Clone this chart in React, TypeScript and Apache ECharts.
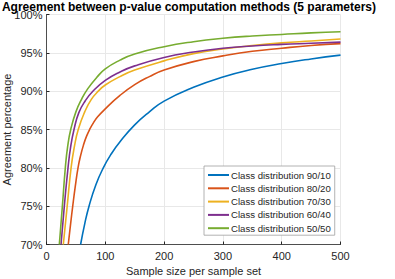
import React, { useEffect, useRef } from "react";
import * as echarts from "echarts";

const seriesNames = [
  "Class distribution 90/10",
  "Class distribution 80/20",
  "Class distribution 70/30",
  "Class distribution 60/40",
  "Class distribution 50/50",
];

const colors = ["#0072BD", "#D95319", "#EDB120", "#7E2F8E", "#77AC30"];

const xTicks = [0, 100, 200, 300, 400, 500];

const dist90: [number, number][] = [
  [58, 70], [65, 72.7], [72.3, 75], [84, 77.8], [96.6, 80], [110, 81.8], [125, 83.4],
  [150, 85.6], [175, 87.3], [200, 88.7], [250, 90.5], [300, 91.85], [350, 92.85],
  [400, 93.6], [450, 94.2], [500, 94.7],
];
const dist80: [number, number][] = [
  [37, 70], [41, 72.7], [44.6, 75], [49, 77.6], [53.6, 80], [58, 81.6], [63, 83],
  [68, 84.1], [74, 85.1], [80, 85.9], [87, 86.65], [100, 87.7], [125, 89.45],
  [150, 90.85], [175, 91.9], [200, 92.75], [250, 93.85], [300, 94.6], [350, 95.2],
  [400, 95.6], [450, 95.95], [500, 96.2],
];
const dist70: [number, number][] = [
  [28.6, 70], [35.2, 75], [41.8, 80], [47.5, 82.8], [54, 85], [65, 87.3], [76, 88.9],
  [88, 90], [100, 90.8], [125, 91.9], [150, 92.75], [200, 93.95], [250, 94.9],
  [300, 95.5], [350, 95.95], [400, 96.3], [450, 96.55], [500, 96.8],
];
const dist60: [number, number][] = [
  [24.7, 70], [30.3, 75], [36.6, 80], [41, 82.7], [46.8, 85], [55, 87.2], [66, 88.75],
  [79.6, 90.05], [100, 91.4], [125, 92.5], [150, 93.3], [200, 94.4], [250, 95.1],
  [300, 95.6], [350, 95.9], [400, 96.1], [450, 96.25], [500, 96.4],
];
const dist50: [number, number][] = [
  [21.8, 70], [27, 75], [32, 80], [36, 82.8], [41.2, 85], [50, 87.3], [60, 89],
  [70, 90.3], [85, 91.75], [100, 92.9], [125, 94.05], [150, 94.85], [200, 95.8],
  [250, 96.45], [300, 96.9], [350, 97.2], [400, 97.4], [450, 97.6], [500, 97.75],
];

const seriesData = [dist90, dist80, dist70, dist60, dist50];

export default function App() {
  const ref = useRef<HTMLDivElement>(null);
  useEffect(() => {
    if (!ref.current) return;
    const chart = echarts.init(ref.current, undefined, { renderer: "svg" });
    const font = "'Liberation Sans', Arial, Helvetica, sans-serif";
    chart.setOption({
      animation: false,
      textStyle: { fontFamily: font },
      title: {
        text: "Agreement between p-value computation methods (5 parameters)",
        left: 189,
        textAlign: "center",
        top: 1,
        padding: 0,
        textStyle: { fontSize: 12, fontWeight: "bold", color: "#000", fontFamily: font },
      },
      grid: {
        left: 46.5,
        right: 54.5,
        top: 14.5,
        bottom: 34.5,
        containLabel: false,
        outerBoundsMode: "none",
      },
      legend: {
        orient: "vertical",
        left: 204,
        top: 166,
        padding: [3, 4, 1, 4],
        itemGap: 1.3,
        itemWidth: 21,
        itemHeight: 2,
        icon: "rect",
        backgroundColor: "#fff",
        borderColor: "#a0a0a0",
        borderWidth: 0.8,
        borderRadius: 0,
        textStyle: {
          fontSize: 9.6,
          lineHeight: 12,
          color: "#262626",
          fontFamily: font,
          padding: [0, 0, 0, -3],
        },
        data: seriesNames,
      },
      xAxis: {
        type: "value",
        min: xTicks[0],
        max: xTicks[xTicks.length - 1],
        interval: 100,
        name: "Sample size per sample set",
        nameLocation: "middle",
        nameGap: 21,
        nameMoveOverlap: false,
        nameTextStyle: { fontSize: 11, color: "#262626" },
        axisLine: { show: true, lineStyle: { color: "#262626", width: 0.8 } },
        axisTick: { show: true, inside: true, length: 3, lineStyle: { color: "#262626" } },
        axisLabel: { fontSize: 11, color: "#262626", margin: 6 },
        splitLine: { show: true, lineStyle: { color: "#e8e8e8", width: 1 } },
      },
      yAxis: {
        type: "value",
        min: 70,
        max: 100,
        interval: 5,
        name: "Agreement percentage",
        nameLocation: "middle",
        nameGap: 34,
        nameMoveOverlap: false,
        nameTextStyle: { fontSize: 11, color: "#262626" },
        axisLine: { show: true, lineStyle: { color: "#262626", width: 0.8 } },
        axisTick: { show: true, inside: true, length: 3, lineStyle: { color: "#262626" } },
        axisLabel: { fontSize: 11, color: "#262626", margin: 4, formatter: "{value}%" },
        splitLine: { show: true, lineStyle: { color: "#e8e8e8", width: 1 } },
      },
      series: seriesNames.map((name, i) => ({
        name,
        type: "line",
        data: seriesData[i],
        smooth: 0.5,
        symbol: "none",
        clip: true,
        color: colors[i],
        lineStyle: { color: colors[i], width: 1.6 },
      })),
    });
    return () => chart.dispose();
  }, []);
  return <div ref={ref} style={{ width: 395, height: 279, position: "absolute", left: 0, top: 0 }} />;
}
